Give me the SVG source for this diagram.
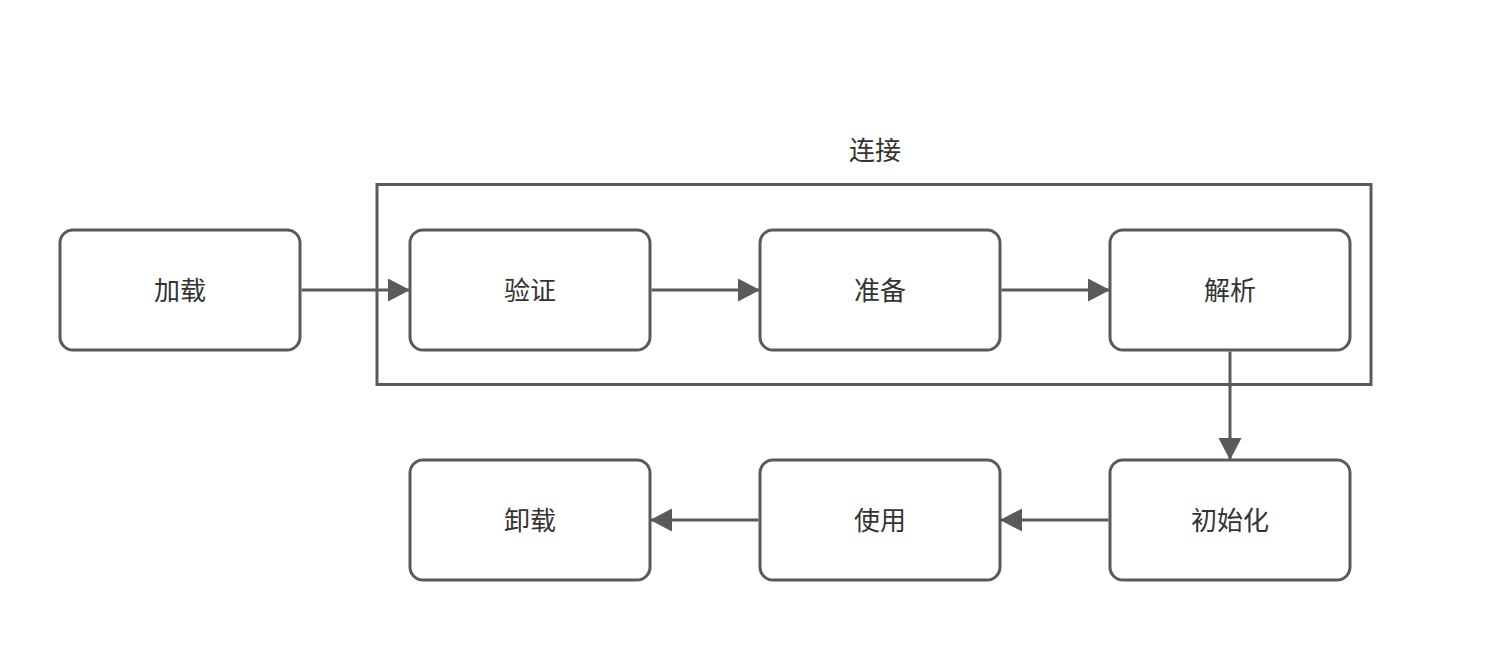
<svg xmlns="http://www.w3.org/2000/svg" width="1492" height="670" viewBox="0 0 1492 670">
<style>
.node{fill:#fff;stroke:#5a5a5a;stroke-width:3}
.lbl{font-family:"Noto Sans CJK SC","Noto Sans",sans-serif;font-size:26px;fill:#333;text-anchor:middle;dominant-baseline:central}
.edge{stroke:#5a5a5a;stroke-width:3;fill:none}
</style>
<defs>
<marker id="ah" markerUnits="userSpaceOnUse" markerWidth="22" markerHeight="24" refX="21" refY="11.5" orient="auto">
<path d="M0,0 L22,11.5 L0,23 Z" fill="#5a5a5a"/>
</marker>
</defs>
<rect width="1492" height="670" fill="#fff"/>
<g id="container">
<rect x="377" y="184.5" width="994" height="200" fill="none" stroke="#5a5a5a" stroke-width="3"/>
<text class="lbl" x="875" y="148">连接</text>
</g>
<g id="n-load"><rect class="node" x="60" y="230" width="240" height="120" rx="13"/><text class="lbl" x="180" y="288">加载</text></g>
<g id="n-verify"><rect class="node" x="410" y="230" width="240" height="120" rx="13"/><text class="lbl" x="530" y="288">验证</text></g>
<g id="n-prepare"><rect class="node" x="760" y="230" width="240" height="120" rx="13"/><text class="lbl" x="880" y="288">准备</text></g>
<g id="n-resolve"><rect class="node" x="1110" y="230" width="240" height="120" rx="13"/><text class="lbl" x="1230" y="288">解析</text></g>
<g id="n-init"><rect class="node" x="1110" y="460" width="240" height="120" rx="13"/><text class="lbl" x="1230" y="518">初始化</text></g>
<g id="n-use"><rect class="node" x="760" y="460" width="240" height="120" rx="13"/><text class="lbl" x="880" y="518">使用</text></g>
<g id="n-unload"><rect class="node" x="410" y="460" width="240" height="120" rx="13"/><text class="lbl" x="530" y="518">卸载</text></g>
<g id="connectors">
<line class="edge" x1="301.5" y1="290" x2="409" y2="290" marker-end="url(#ah)"/>
<line class="edge" x1="651.5" y1="290" x2="759" y2="290" marker-end="url(#ah)"/>
<line class="edge" x1="1001.5" y1="290" x2="1109" y2="290" marker-end="url(#ah)"/>
<line class="edge" x1="1230" y1="351.5" x2="1230" y2="459" marker-end="url(#ah)"/>
<line class="edge" x1="1108.5" y1="520" x2="1001" y2="520" marker-end="url(#ah)"/>
<line class="edge" x1="758.5" y1="520" x2="651" y2="520" marker-end="url(#ah)"/>
</g>
</svg>
